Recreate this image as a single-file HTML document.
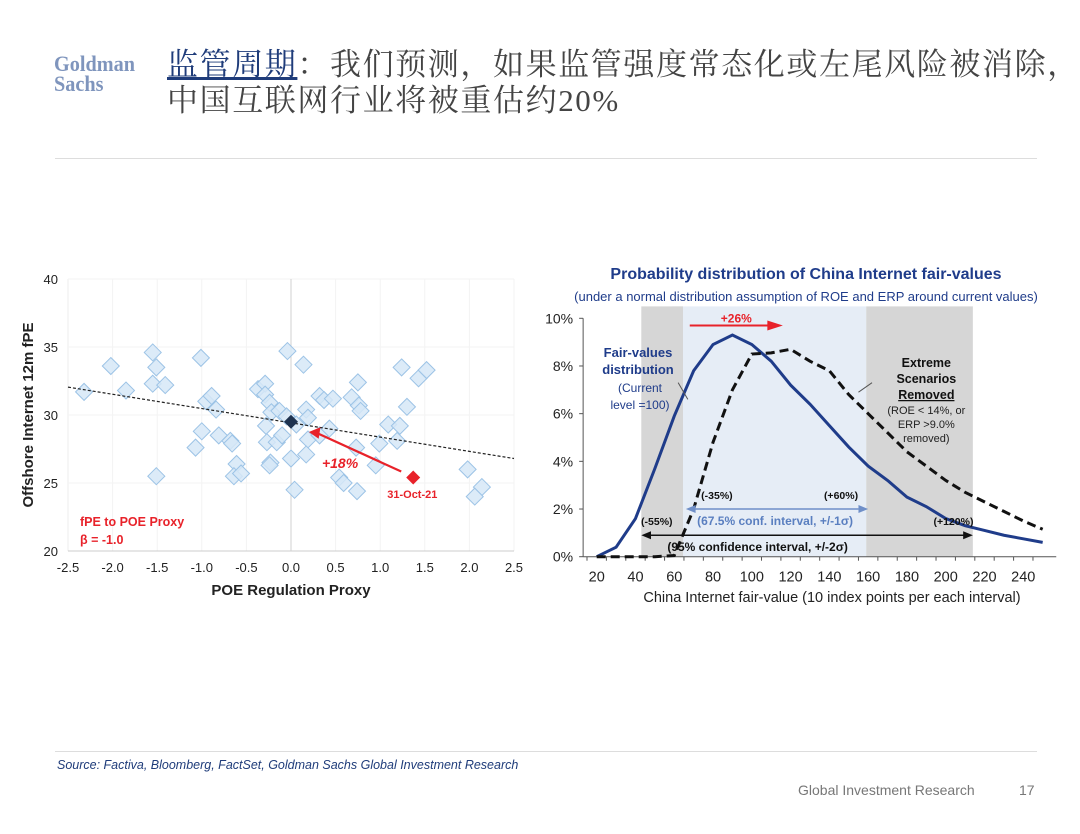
<!DOCTYPE html>
<html><head><meta charset="utf-8"><style>
body{margin:0;width:1080px;height:834px;background:#fff;overflow:hidden;position:relative;font-family:"Liberation Sans",Arial,sans-serif}
.abs{position:absolute}
</style></head><body>
<div class="abs" style="left:54px;top:54px;font-family:'Liberation Serif',serif;font-weight:bold;color:#7f95bd;font-size:22px;line-height:20px;transform:scaleX(0.92);transform-origin:left">Goldman<br>Sachs</div>
<div class="abs" style="left:167px;top:47px;font-family:'Liberation Serif','Noto Serif CJK SC',serif;font-size:31px;line-height:36px;color:#444;white-space:nowrap;letter-spacing:1.6px"><span style="color:#1f3c7a;text-decoration:underline">监管周期</span>：我们预测，如果监管强度常态化或左尾风险被消除，<br>中国互联网行业将被重估约20%</div>
<div class="abs" style="left:55px;top:158px;width:982px;height:1px;background:#ddd"></div>
<div class="abs" style="left:55px;top:751px;width:982px;height:1px;background:#ddd"></div>
<div class="abs" style="left:57px;top:758px;font-size:12.5px;font-style:italic;color:#1f3c7a">Source: Factiva, Bloomberg, FactSet, Goldman Sachs Global Investment Research</div>
<div class="abs" style="left:798px;top:782px;font-size:14px;color:#777">Global Investment Research</div>
<div class="abs" style="left:1019px;top:782px;font-size:14px;color:#777">17</div>

<svg id="left" class="abs" style="left:0;top:260px" width="530" height="350"></svg>
<svg id="right" class="abs" style="left:530px;top:255px" width="550" height="360"></svg>

<script>
const NS="http://www.w3.org/2000/svg";
function mk(p,t,a,txt){const e=document.createElementNS(NS,t);for(const k in a)e.setAttribute(k,a[k]);if(txt!==undefined)e.textContent=txt;p.appendChild(e);return e;}

// ---- Scatter data ----
const scatterX=[-2.32,-2.02,-1.85,-1.55,-1.51,-1.55,-1.41,-1.51,-1.01,-0.95,-0.89,-0.84,-1.0,-1.07,-0.81,-0.68,-0.66,-0.61,-0.64,-0.56,-0.37,-0.29,-0.29,-0.24,-0.22,-0.13,-0.28,-0.27,-0.16,-0.1,-0.23,-0.24,-0.04,-0.05,0.06,0.0,0.04,0.14,0.17,0.19,0.19,0.17,0.32,0.37,0.47,0.32,0.43,0.54,0.59,0.68,0.75,0.76,0.78,0.73,0.74,0.95,0.99,1.09,1.22,1.19,1.24,1.30,1.43,1.52,1.98,2.14,2.06];
const scatterY=[31.7,33.6,31.8,34.6,33.5,32.3,32.2,25.5,34.2,31.0,31.4,30.4,28.8,27.6,28.5,28.1,27.9,26.4,25.5,25.7,31.9,32.3,31.5,30.9,30.2,30.3,29.2,28.0,28.0,28.5,26.5,26.3,34.7,29.9,29.3,26.8,24.5,33.7,30.4,29.8,28.2,27.1,31.4,31.1,31.2,28.5,29.0,25.4,25.0,31.3,32.4,30.7,30.3,27.6,24.4,26.3,27.9,29.3,29.2,28.1,33.5,30.6,32.7,33.3,26.0,24.7,24.0];
const currentPoint=[0.0,29.5];
const latestPoint=[1.37,25.4];
const trendEnds=[[-2.5,32.05],[2.5,26.8]];
const scatterXTicks=[-2.5,-2.0,-1.5,-1.0,-0.5,0.0,0.5,1.0,1.5,2.0,2.5];
const scatterYTicks=[20,25,30,35,40];

(function(){
const s=document.getElementById('left');
const X=v=>68+(v+2.5)*89.2, Y=v=>19+(40-v)*13.6;
mk(s,'line',{x1:X(-2.5),x2:X(-2.5),y1:Y(40),y2:Y(20),stroke:'#eee'});
for(const t of scatterXTicks){
 if(t!==-2.5) mk(s,'line',{x1:X(t),x2:X(t),y1:Y(40),y2:Y(20),stroke:'#f3f3f3'});
 const l=mk(s,'text',{x:X(t),y:Y(20)+21,'text-anchor':'middle','font-size':13,fill:'#222'},t.toFixed(1));
 
}
for(const t of scatterYTicks){
 if(t!==20) mk(s,'line',{x1:X(-2.5),x2:X(2.5),y1:Y(t),y2:Y(t),stroke:'#f3f3f3'});
 const l=mk(s,'text',{x:X(-2.5)-10,y:Y(t)+5,'text-anchor':'end','font-size':13,fill:'#222'},t);
 
}
mk(s,'line',{x1:X(-2.5),x2:X(2.5),y1:Y(20),y2:Y(20),stroke:'#ccc'});
mk(s,'line',{x1:X(0),x2:X(0),y1:Y(40),y2:Y(20),stroke:'#d0d0d0'});
for(let i=0;i<scatterX.length;i++){
 const x=X(scatterX[i]),y=Y(scatterY[i]);
 const p=mk(s,'polygon',{points:`${x},${y-8.5} ${x+8.5},${y} ${x},${y+8.5} ${x-8.5},${y}`,fill:'#d6e7f7',stroke:'#9cc3e6','stroke-width':1,'fill-opacity':0.85});
 
}
const tl=mk(s,'line',{x1:X(trendEnds[0][0]),y1:Y(trendEnds[0][1]),x2:X(trendEnds[1][0]),y2:Y(trendEnds[1][1]),stroke:'#222','stroke-dasharray':'3,2','stroke-width':1.2});

let x=X(currentPoint[0]),y=Y(currentPoint[1]);
const cp=mk(s,'polygon',{points:`${x},${y-7} ${x+7},${y} ${x},${y+7} ${x-7},${y}`,fill:'#1f3350'});

x=X(latestPoint[0]);y=Y(latestPoint[1]);
const lp=mk(s,'polygon',{points:`${x},${y-7} ${x+7},${y} ${x},${y+7} ${x-7},${y}`,fill:'#e8222a'});

mk(s,'line',{x1:x-12,y1:y-6,x2:X(0.25),y2:Y(28.8),stroke:'#e8222a','stroke-width':2.2});
mk(s,'polygon',{points:`${X(0.2)},${Y(28.75)} ${X(0.33)},${Y(28.95)-2} ${X(0.31)},${Y(28.4)+2}`,fill:'#e8222a'});
mk(s,'text',{x:X(0.55),y:Y(26.1),'font-size':14,'font-weight':'bold','font-style':'italic',fill:'#e8222a','text-anchor':'middle'},'+18%');
mk(s,'text',{x:X(1.36),y:Y(23.9),'font-size':11,'font-weight':'bold',fill:'#e8222a','text-anchor':'middle'},'31-Oct-21');
mk(s,'text',{x:80,y:266,'font-size':12.5,'font-weight':'bold',fill:'#e8222a'},'fPE to POE Proxy');
mk(s,'text',{x:80,y:284,'font-size':12.5,'font-weight':'bold',fill:'#e8222a'},'β = -1.0');
const xt=mk(s,'text',{x:X(0),y:335,'text-anchor':'middle','font-size':15,'font-weight':'bold',fill:'#222'},'POE Regulation Proxy');

const yt=mk(s,'text',{x:0,y:0,'text-anchor':'middle','font-size':15,'font-weight':'bold',fill:'#222',transform:`translate(33,${Y(30)}) rotate(-90)`},'Offshore Internet 12m fPE');

})();

// ---- Distribution data ----
const fvCategories=[20,30,40,50,60,70,80,90,100,110,120,130,140,150,160,170,180,190,200,210,220,230,240,250];
const fairValues=[0,0.4,1.6,3.7,5.9,7.8,8.9,9.3,8.9,8.2,7.2,6.4,5.5,4.6,3.8,3.2,2.5,2.1,1.6,1.3,1.1,0.9,0.75,0.6];
const extremeRemoved=[0,0,0,0,0.05,2.0,4.8,7.0,8.5,8.55,8.7,8.2,7.8,6.8,6.0,5.2,4.4,3.8,3.2,2.7,2.3,1.9,1.5,1.15];
const fvXTicks=[20,40,60,80,100,120,140,160,180,200,220,240];
const fvYTicks=[0,2,4,6,8,10];

(function(){
const s=document.getElementById('right');
const X=v=>66.7+(v-20)*1.939, Y=v=>301.7-v*23.84;
mk(s,'rect',{x:X(59),y:Y(10.5),width:X(159)-X(59),height:Y(0)-Y(10.5),fill:'#e6edf6'});
mk(s,'rect',{x:X(43),y:Y(10.5),width:X(64.5)-X(43),height:Y(0)-Y(10.5),fill:'#d6d6d6'});
mk(s,'rect',{x:X(159),y:Y(10.5),width:X(214)-X(159),height:Y(0)-Y(10.5),fill:'#d6d6d6'});
mk(s,'text',{x:276,y:24,'text-anchor':'middle','font-size':16,'font-weight':'bold',fill:'#1f3c8a'},'Probability distribution of China Internet fair-values');
mk(s,'text',{x:276,y:46,'text-anchor':'middle','font-size':13,fill:'#1f3c8a'},'(under a normal distribution assumption of ROE and ERP around current values)');
mk(s,'line',{x1:X(13),x2:X(13),y1:Y(10),y2:Y(0),stroke:'#555'});
mk(s,'line',{x1:X(13),x2:X(257),y1:Y(0),y2:Y(0),stroke:'#555'});
for(const t of fvYTicks){
 mk(s,'line',{x1:X(13)-4,x2:X(13),y1:Y(t),y2:Y(t),stroke:'#555'});
 const l=mk(s,'text',{x:X(13)-10,y:Y(t)+5,'text-anchor':'end','font-size':14,fill:'#222'},t+'%');
 
}
for(const c of fvCategories) mk(s,'line',{x1:X(c-5),x2:X(c-5),y1:Y(0),y2:Y(0)+4,stroke:'#555'});
for(const t of fvXTicks){
 const l=mk(s,'text',{x:X(t),y:Y(0)+25,'text-anchor':'middle','font-size':14.5,fill:'#222'},t);
 
}
const xt=mk(s,'text',{x:302,y:347,'text-anchor':'middle','font-size':14.5,fill:'#222'},'China Internet fair-value (10 index points per each interval)');

const pts=a=>a.map((v,i)=>X(fvCategories[i])+','+Y(v)).join(' ');
const l1=mk(s,'polyline',{points:pts(fairValues),fill:'none',stroke:'#1f3c8a','stroke-width':3});

const l2=mk(s,'polyline',{points:pts(extremeRemoved),fill:'none',stroke:'#111','stroke-width':3,'stroke-dasharray':'9,5'});

// annotations
const ay=Y(9.7);
mk(s,'line',{x1:X(68),x2:X(111),y1:ay,y2:ay,stroke:'#e8222a','stroke-width':2});
mk(s,'polygon',{points:`${X(116)},${ay} ${X(108)},${ay-5} ${X(108)},${ay+5}`,fill:'#e8222a'});
mk(s,'text',{x:X(92),y:ay-3,'text-anchor':'middle','font-size':12,'font-weight':'bold',fill:'#e8222a'},'+26%');
mk(s,'text',{x:108,y:102,'text-anchor':'middle','font-size':13,'font-weight':'bold',fill:'#1f3c8a'},'Fair-values');
mk(s,'text',{x:108,y:119,'text-anchor':'middle','font-size':13,'font-weight':'bold',fill:'#1f3c8a'},'distribution');
mk(s,'text',{x:110,y:137,'text-anchor':'middle','font-size':12,fill:'#1f3c8a'},'(Current');
mk(s,'text',{x:110,y:154,'text-anchor':'middle','font-size':12,fill:'#1f3c8a'},'level =100)');
mk(s,'line',{x1:X(62),y1:Y(7.3),x2:X(67),y2:Y(6.6),stroke:'#555'});
mk(s,'text',{x:X(190),y:112,'text-anchor':'middle','font-size':12.5,'font-weight':'bold',fill:'#111'},'Extreme');
mk(s,'text',{x:X(190),y:128,'text-anchor':'middle','font-size':12.5,'font-weight':'bold',fill:'#111'},'Scenarios');
mk(s,'text',{x:X(190),y:144,'text-anchor':'middle','font-size':12.5,'font-weight':'bold',fill:'#111','text-decoration':'underline'},'Removed');
mk(s,'text',{x:X(190),y:159,'text-anchor':'middle','font-size':11,fill:'#222'},'(ROE < 14%, or');
mk(s,'text',{x:X(190),y:173,'text-anchor':'middle','font-size':11,fill:'#222'},'ERP >9.0%');
mk(s,'text',{x:X(190),y:187,'text-anchor':'middle','font-size':11,fill:'#222'},'removed)');
mk(s,'line',{x1:X(155),y1:Y(6.9),x2:X(162),y2:Y(7.3),stroke:'#555'});
// 1 sigma
mk(s,'line',{x1:X(70),x2:X(155),y1:Y(2),y2:Y(2),stroke:'#6f8fc8','stroke-width':1.5});
mk(s,'polygon',{points:`${X(66)},${Y(2)} ${X(71)},${Y(2)-4} ${X(71)},${Y(2)+4}`,fill:'#6f8fc8'});
mk(s,'polygon',{points:`${X(160)},${Y(2)} ${X(155)},${Y(2)-4} ${X(155)},${Y(2)+4}`,fill:'#6f8fc8'});
mk(s,'text',{x:X(82),y:Y(2)-10,'text-anchor':'middle','font-size':10.5,'font-weight':'bold',fill:'#111'},'(-35%)');
mk(s,'text',{x:X(146),y:Y(2)-10,'text-anchor':'middle','font-size':10.5,'font-weight':'bold',fill:'#111'},'(+60%)');
mk(s,'text',{x:X(112),y:Y(2)+16,'text-anchor':'middle','font-size':12,'font-weight':'bold',fill:'#5a7fc0'},'(67.5% conf. interval, +/-1σ)');
// 2 sigma
mk(s,'line',{x1:X(46),x2:X(211),y1:Y(0.9),y2:Y(0.9),stroke:'#111','stroke-width':1.5});
mk(s,'polygon',{points:`${X(43)},${Y(0.9)} ${X(48)},${Y(0.9)-4} ${X(48)},${Y(0.9)+4}`,fill:'#111'});
mk(s,'polygon',{points:`${X(214)},${Y(0.9)} ${X(209)},${Y(0.9)-4} ${X(209)},${Y(0.9)+4}`,fill:'#111'});
mk(s,'text',{x:X(51),y:Y(0.9)-10,'text-anchor':'middle','font-size':10.5,'font-weight':'bold',fill:'#111'},'(-55%)');
mk(s,'text',{x:X(204),y:Y(0.9)-10,'text-anchor':'middle','font-size':10.5,'font-weight':'bold',fill:'#111'},'(+120%)');
mk(s,'text',{x:X(103),y:Y(0.9)+16,'text-anchor':'middle','font-size':12,'font-weight':'bold',fill:'#111'},'(95% confidence interval, +/-2σ)');
})();
</script>
</body></html>
